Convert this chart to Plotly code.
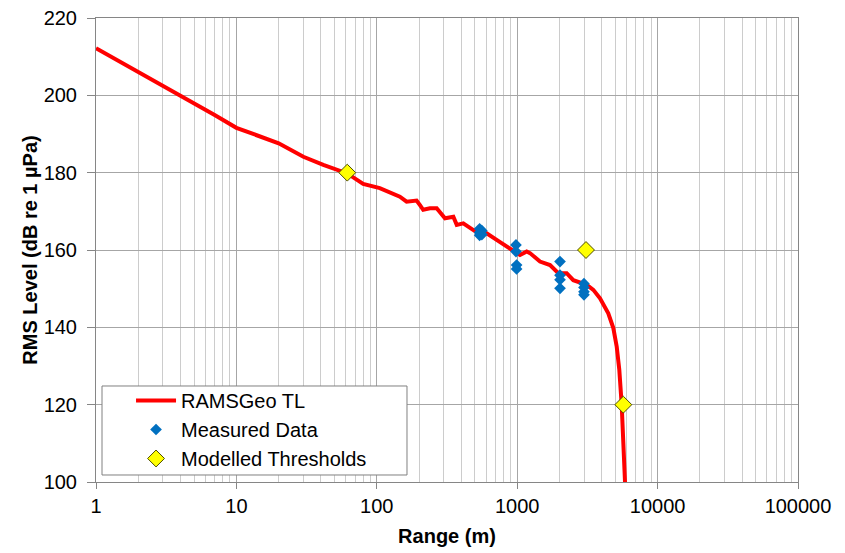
import plotly.graph_objects as go

# RAMSGeo TL model curve
tl_range = [1, 2, 4, 7, 10, 17.3, 20, 30, 41.6, 61.6, 80, 105, 146, 163, 192, 203, 214, 239,
            267, 306, 351, 371, 413, 528, 606, 714, 889, 1047, 1169, 1233, 1453, 1713, 1964,
            2251, 2510, 3128, 3485, 3889, 4454, 4838, 5116, 5337, 5548, 5700, 5861]
tl_level = [212.2, 206.1, 199.7, 194.9, 191.6, 188.5, 187.6, 184.1, 182.0, 179.8, 177.1, 176.0,
            173.8, 172.5, 172.8, 171.6, 170.4, 170.8, 170.8, 168.2, 168.6, 166.5, 166.9, 164.3,
            164.3, 162.6, 160.4, 158.7, 159.6, 159.2, 157.0, 156.1, 154.0, 154.0, 152.2, 151.0,
            149.7, 147.5, 143.6, 139.8, 135.0, 129.0, 120.0, 110.0, 100.0]

# Measured data
meas_range = [540, 540, 540, 560, 560, 980, 980, 990, 990, 2018, 2018, 2018, 2018,
              2990, 2990, 2990, 2990]
meas_level = [165.5, 164.5, 163.8, 165.0, 164.0, 161.3, 159.6, 156.1, 155.1, 157.0, 153.5,
              152.3, 150.1, 151.3, 150.3, 149.2, 148.4]

# Modelled thresholds
thr_range = [61.6, 3090, 5700]
thr_level = [180, 160, 120]

x_tickvals = [1, 10, 100, 1000, 10000, 100000]
x_ticktext = ["1", "10", "100", "1000", "10000", "100000"]
y_tickvals = [100, 120, 140, 160, 180, 200, 220]

FONT = "Liberation Sans, Arial, sans-serif"
FS = 20

fig = go.Figure()
fig.add_trace(go.Scatter(x=tl_range, y=tl_level, mode="lines", name="RAMSGeo TL",
                         line=dict(color="#FF0000", width=4), cliponaxis=True))
fig.add_trace(go.Scatter(x=meas_range, y=meas_level, mode="markers", name="Measured Data",
                         marker=dict(symbol="diamond", color="#0070C0", size=9,
                                     line=dict(width=0))))
fig.add_trace(go.Scatter(x=thr_range, y=thr_level, mode="markers", name="Modelled Thresholds",
                         marker=dict(symbol="diamond", color="#FFFF00", size=13,
                                     line=dict(color="#4d4d00", width=1))))

# legend frame (white box with grey border)
fig.add_shape(type="rect", xref="paper", yref="paper",
              x0=0.00855, x1=0.443, y0=0.0151, y1=0.2069,
              fillcolor="white", line=dict(color="#808080", width=1), layer="above")

fig.update_layout(
    width=845, height=553,
    margin=dict(l=96, r=47, t=18, b=71, autoexpand=False),
    paper_bgcolor="white", plot_bgcolor="white",
    font=dict(family=FONT, size=FS, color="#000000"),
    showlegend=True,
    legend=dict(x=0.0499, y=0.2177, xanchor="left", yanchor="top",
                bgcolor="rgba(0,0,0,0)", borderwidth=0,
                font=dict(family=FONT, size=FS, color="#000000"),
                itemwidth=40),
)
fig.update_xaxes(
    type="log", range=[0, 5], automargin=False,
    tickvals=x_tickvals, ticktext=x_ticktext,
    showgrid=True, gridcolor="#a6a6a6", gridwidth=1,
    minor=dict(dtick="D1", showgrid=True, gridcolor="#cccccc", gridwidth=1, ticks=""),
    showline=True, linecolor="#868686", linewidth=1, mirror=True,
    ticks="outside", ticklen=6, tickcolor="#868686",
    tickfont=dict(family=FONT, size=FS, color="#000000"),
    title=dict(text="<b>Range (m)</b>", font=dict(family=FONT, size=FS), standoff=12),
    zeroline=False,
)
fig.update_yaxes(
    range=[100, 220], tickvals=y_tickvals, automargin=False,
    showgrid=True, gridcolor="#a6a6a6", gridwidth=1,
    showline=True, linecolor="#868686", linewidth=1, mirror=True,
    ticks="outside", ticklen=8, tickcolor="#868686",
    ticklabelstandoff=6,
    tickfont=dict(family=FONT, size=FS, color="#000000"),
    title=dict(text="<b>RMS Level (dB re 1 µPa)</b>", font=dict(family=FONT, size=FS), standoff=0),
    zeroline=False,
)

fig.write_html("out.html", config={"displayModeBar": False},
               post_script="document.body.style.margin='0';document.body.style.overflow='hidden';")
